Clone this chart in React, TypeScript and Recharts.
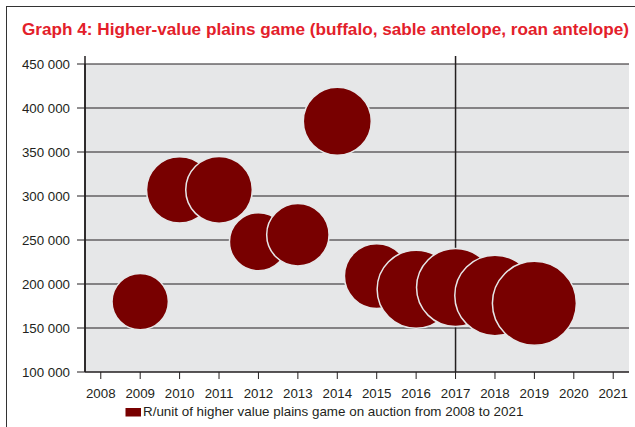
import React from "react";
import {
  ScatterChart,
  Scatter,
  XAxis,
  YAxis,
  ZAxis,
  CartesianGrid,
  ReferenceLine,
} from "recharts";

// auction years and average R/unit for higher-value plains game
const years = [2009, 2010, 2011, 2012, 2013, 2014, 2015, 2016, 2017, 2018, 2019];
const pricePerUnit = [
  180000, 307000, 307000, 248000, 256000, 385000, 209000, 194000, 196000,
  187000, 178000,
];
// relative bubble size
const bubbleSize = [795, 1096, 1109, 841, 973, 1156, 1043, 1521, 1521, 1616, 1764];

const xTicks = [
  2008, 2009, 2010, 2011, 2012, 2013, 2014, 2015, 2016, 2017, 2018, 2019, 2020,
  2021,
];
const yTicks = [100000, 150000, 200000, 250000, 300000, 350000, 400000, 450000];

const title =
  "Graph 4: Higher-value plains game (buffalo, sable antelope, roan antelope)";
const legendLabel =
  "R/unit of higher value plains game on auction from 2008 to 2021";

const data = years.map((year, i) => ({
  year,
  price: pricePerUnit[i],
  size: bubbleSize[i],
}));

const X_MIN = 2007.6;
const X_MAX = 2021.4;
const Y_TOP_EXT = 459100; // the axis and 2017 rules stick out above the plot

const W = 635;
const H = 427;
const M = { top: 64, right: 6, bottom: 0, left: 0 };
const Y_AXIS_W = 85;
const X_AXIS_H = 55;

const INK = "#231f20";
const PLOT_BG = "#e6e7e8";
const BUBBLE = "#780000";
const FONT = "'Liberation Sans', Arial, sans-serif";

const tickStyle = { fill: INK, fontSize: 13.3, fontFamily: FONT };

const formatThousands = (v: number) => `${Math.round(v / 1000)} 000`;

export default function App() {
  return (
    <div
      style={{
        position: "absolute",
        left: 0,
        top: 0,
        width: W,
        height: H,
        background: "#fff",
        overflow: "hidden",
      }}
    >
      <div
        style={{
          position: "absolute",
          left: 6,
          top: 6,
          width: 640,
          height: 430,
          borderTop: "1.5px solid #333",
          borderLeft: "1.5px solid #333",
        }}
      />
      {/* grey plot panel under the transparent chart svg */}
      <div
        style={{
          position: "absolute",
          left: M.left + Y_AXIS_W,
          top: M.top,
          width: W - M.left - M.right - Y_AXIS_W,
          height: H - M.top - M.bottom - X_AXIS_H,
          background: PLOT_BG,
        }}
      />
      <div style={{ position: "absolute", left: 0, top: 0 }}>
        <ScatterChart width={W} height={H} margin={M}>
          <CartesianGrid vertical={false} stroke={INK} strokeWidth={1.1} />
          <ReferenceLine
            segment={[
              { x: 2017, y: 100000 },
              { x: 2017, y: Y_TOP_EXT },
            ]}
            ifOverflow="visible"
            stroke={INK}
            strokeWidth={1.5}
          />
          <ReferenceLine
            segment={[
              { x: X_MIN, y: 100000 },
              { x: X_MIN, y: Y_TOP_EXT },
            ]}
            ifOverflow="visible"
            stroke={INK}
            strokeWidth={1.5}
          />
          <XAxis
            type="number"
            dataKey="year"
            domain={[X_MIN, X_MAX]}
            ticks={xTicks}
            interval={0}
            allowDataOverflow
            height={X_AXIS_H}
            tickSize={7}
            tickMargin={10}
            tick={tickStyle}
            axisLine={{ stroke: INK }}
            tickLine={{ stroke: INK }}
          />
          <YAxis
            type="number"
            dataKey="price"
            domain={[100000, 450000]}
            ticks={yTicks}
            interval={0}
            allowDataOverflow
            width={Y_AXIS_W}
            tickSize={8}
            tickMargin={7}
            tick={tickStyle}
            tickFormatter={formatThousands}
            axisLine={{ stroke: INK, strokeWidth: 1.5 }}
            tickLine={{ stroke: INK }}
          />
          <ZAxis
            type="number"
            dataKey="size"
            domain={[0, 2000]}
            range={[0, 2000 * Math.PI]}
          />
          <Scatter
            data={data}
            fill={BUBBLE}
            stroke={PLOT_BG}
            strokeWidth={1.5}
            isAnimationActive={false}
          />
        </ScatterChart>
      </div>
      <svg
        width={W}
        height={H}
        style={{ position: "absolute", left: 0, top: 0, pointerEvents: "none" }}
      >
        <text
          x={22}
          y={35}
          fill="#e3202a"
          fontSize={17.2}
          fontWeight={700}
          fontFamily={FONT}
          textLength={607}
          lengthAdjust="spacingAndGlyphs"
        >
          {title}
        </text>
        <rect x={125.5} y={408} width={15.5} height={8.5} fill={BUBBLE} />
        <text x={143} y={416} fill={INK} fontSize={13.4} fontFamily={FONT}>
          {legendLabel}
        </text>
      </svg>
    </div>
  );
}
